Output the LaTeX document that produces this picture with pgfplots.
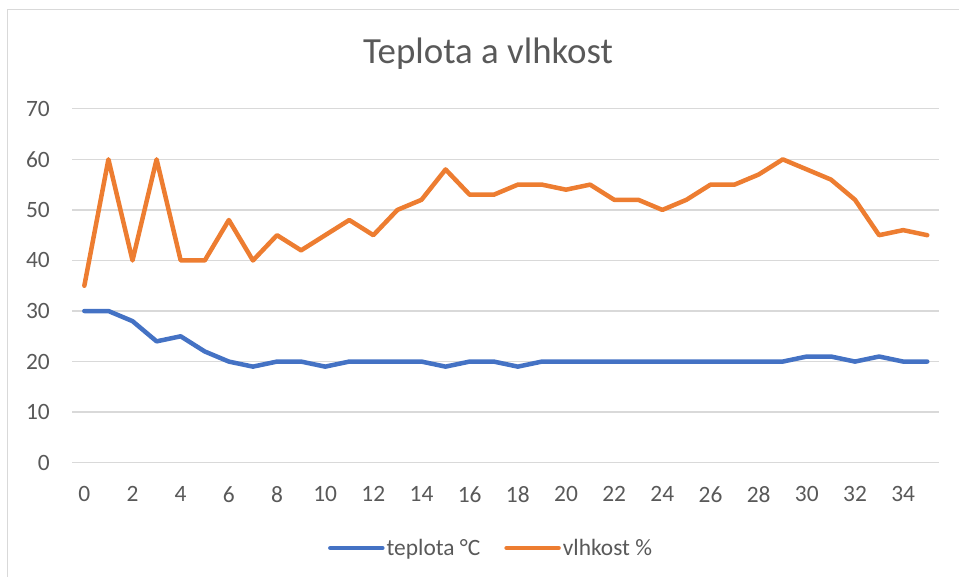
\documentclass[border=0pt]{standalone}
\usepackage{pgfplots}
\pgfplotsset{compat=1.18}
\usepackage{fontspec}
\setmainfont{Carlito}
\definecolor{txt}{HTML}{595959}
\definecolor{gridc}{HTML}{D9D9D9}
\definecolor{cblue}{HTML}{4472C4}
\definecolor{corange}{HTML}{ED7D31}
\begin{document}
\begin{tikzpicture}[x=1bp,y=1bp]
\useasboundingbox (0,0) rectangle (959,577);
\draw[gridc, line width=1.5bp] (7.5,0) -- (7.5,567.5) -- (959,567.5);
\node[anchor=base, text=txt, font=\fontsize{37}{44}\selectfont, inner sep=0pt] at (488,513.7) {Teplota a vlhkost};
\begin{axis}[
  at={(72.3bp,114.3bp)}, anchor=south west,
  scale only axis, width=867bp, height=353.9bp,
  xmin=-0.5, xmax=35.5, ymin=0, ymax=70,
  axis line style={draw=none},
  ytick={0,10,...,70}, xtick={0,2,...,34},
  ymajorgrids, major grid style={gridc, line width=1.3bp},
  tick style={draw=none},
  /pgf/number format/assume math mode=true,
  ticklabel style={font=\fontsize{23.5}{28}\selectfont, text=txt, inner sep=0pt},
  yticklabel style={anchor=east, xshift=-22.3bp},
  xticklabel style={anchor=north, yshift=-23.5bp},
  legend columns=2,
  legend style={draw=none, fill=none, at={(0.483,-0.241)}, anchor=center,
    font=\fontsize{23.5}{28}\selectfont, text=txt,
    /tikz/every even column/.append style={column sep=22bp},
    nodes={inner sep=2bp}},
  legend image code/.code={\draw[#1, line width=4.5bp, line cap=round] (0bp,0bp) -- (52bp,0bp);},
  clip=false,
]
\addplot[cblue, line width=4.5bp, line join=round, line cap=round] coordinates {
(0,30) (1,30) (2,28) (3,24) (4,25) (5,22) (6,20) (7,19) (8,20) (9,20)
(10,19) (11,20) (12,20) (13,20) (14,20) (15,19) (16,20) (17,20) (18,19) (19,20)
(20,20) (21,20) (22,20) (23,20) (24,20) (25,20) (26,20) (27,20) (28,20) (29,20)
(30,21) (31,21) (32,20) (33,21) (34,20) (35,20)};
\addlegendentry{teplota °C}
\addplot[corange, line width=4.5bp, line join=round, line cap=round] coordinates {
(0,35) (1,60) (2,40) (3,60) (4,40) (5,40) (6,48) (7,40) (8,45) (9,42)
(10,45) (11,48) (12,45) (13,50) (14,52) (15,58) (16,53) (17,53) (18,55) (19,55)
(20,54) (21,55) (22,52) (23,52) (24,50) (25,52) (26,55) (27,55) (28,57) (29,60)
(30,58) (31,56) (32,52) (33,45) (34,46) (35,45)};
\addlegendentry{vlhkost \%}
\end{axis}
\end{tikzpicture}
\end{document}
